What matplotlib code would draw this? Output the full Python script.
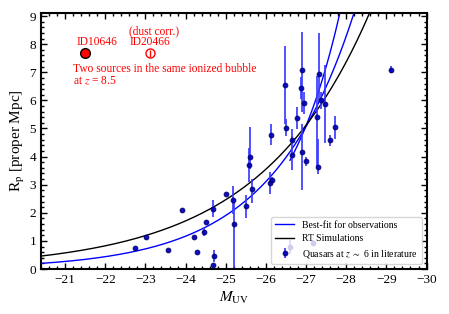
import numpy as np
import matplotlib
matplotlib.use('Agg')
import matplotlib.pyplot as plt
from matplotlib.ticker import MultipleLocator

plt.rcParams['font.family'] = ['Liberation Serif', 'DejaVu Serif']
plt.rcParams['mathtext.fontset'] = 'stix'

# quasars at z~6 (M_UV, R_p, lower err, upper err)
M_qso = [-22.74, -23.01, -23.57, -23.92, -24.20, -24.28, -24.46, -24.52, -24.69, -24.71,
         -24.69, -25.01, -25.19, -25.21, -25.50, -25.59, -25.60, -25.66, -26.10, -26.16,
         -26.13, -26.47, -26.50, -26.64, -26.66, -26.78, -26.87, -26.90, -26.95, -26.90,
         -27.01, -27.29, -27.27, -27.32, -27.37, -27.48, -27.59, -27.71, -29.11, -26.60,
         -27.17]
R_qso = [0.75, 1.14, 0.66, 2.10, 1.15, 0.62, 1.32, 1.66, 2.14, 0.46,
         0.14, 2.67, 2.44, 1.60, 2.23, 3.69, 3.97, 2.86, 3.06, 3.17,
         4.78, 6.56, 5.03, 4.60, 4.07, 5.37, 6.44, 7.09, 5.91, 4.15,
         3.83, 3.63, 5.41, 6.95, 6.00, 5.87, 4.58, 5.04, 7.09, 0.79,
         0.94]
err_lo = [0.0, 0.0, 0.0, 0.0, 0.0, 0.0, 0.15, 0.0, 0.3, 0.2,
          0.0, 0.0, 0.5, 1.55, 0.4, 0.6, 0.4, 0.5, 0.4, 0.1,
          0.38, 1.4, 0.3, 0.15, 0.55, 0.4, 0.4, 1.5, 0.38, 1.35,
          0.15, 0.25, 1.8, 1.0, 0.3, 1.4, 0.2, 0.4, 0.12, 0.25,
          0.1]
err_hi = [0.0, 0.0, 0.0, 0.0, 0.0, 0.0, 0.15, 0.0, 0.3, 0.2,
          0.0, 0.0, 0.5, 0.8, 0.4, 0.6, 1.1, 0.35, 0.4, 0.1,
          0.38, 1.36, 0.3, 0.15, 0.9, 0.4, 0.4, 1.36, 0.38, 1.0,
          0.15, 1.0, 1.45, 1.45, 0.3, 1.4, 0.2, 0.4, 0.12, 0.25,
          0.1]

# the two z=8.5 sources
M_src = [-21.5, -23.12]
R_src = [7.68, 7.68]
src_names = ['ID10646', 'ID20466']

# fit curves  R = A * exp(k * (-M - M0))
fit_obs = (0.20, 0.49, 20.4)
fit_obs2 = (5.1, 0.69, 27.0)
fit_rt = (0.46, 0.365, 20.4)

fig = plt.figure(figsize=(4.49, 3.14), dpi=100)
ax = fig.add_axes([0.0913, 0.1433, 0.8587, 0.8153])

mm = np.linspace(-20.4, -30, 400)
A, k, M0 = fit_obs
ax.plot(mm, A * np.exp(k * (-mm - M0)), color='blue', lw=1, label='Best-fit for observations', zorder=3)
A, k, M0 = fit_obs2
mm2 = np.linspace(-26.6, -28.2, 100)
ax.plot(mm2, A * np.exp(k * (-mm2 - M0)), color='blue', lw=1, zorder=3)
A, k, M0 = fit_rt
ax.plot(mm, A * np.exp(k * (-mm - M0)), color='black', lw=1, label='RT Simulations', zorder=3)

ax.errorbar(M_qso, R_qso, yerr=[err_lo, err_hi], fmt='o', ms=3.5, mfc='#0000c0', mec='#000060',
            mew=0.6, ecolor='#3a3aff', elinewidth=1.3, capsize=0, alpha=0.95, zorder=4,
            label=r'Quasars at $z\ \sim$ 6 in literature')

ax.plot(M_src[0], R_src[0], 'o', ms=7, mfc='red', mec='black', mew=1, zorder=5)
ax.errorbar(M_src[1], R_src[1], yerr=0.12, fmt='o', ms=6.5, mfc='none', mec='red', mew=1,
            ecolor='red', elinewidth=1, zorder=5)

ax.text(-21.79, 8.07, src_names[0], color='red', fontsize=8.3, ha='center', va='center')
ax.text(-23.11, 8.07, src_names[1], color='red', fontsize=8.3, ha='center', va='center')
ax.text(-23.21, 8.47, '(dust corr.)', color='red', fontsize=8.3, ha='center', va='center')
ax.text(-21.2, 7.1, 'Two sources in the same ionized bubble', color='red', fontsize=8.3,
        ha='left', va='center')
ax.text(-21.2, 6.68, r'at $z$ = 8.5', color='red', fontsize=8.3, ha='left', va='center')

ax.set_xlim(-20.4, -30)
ax.set_ylim(0, 9.11)
ax.xaxis.set_major_locator(MultipleLocator(1))
ax.xaxis.set_minor_locator(MultipleLocator(0.2))
ax.yaxis.set_major_locator(MultipleLocator(1))
ax.yaxis.set_minor_locator(MultipleLocator(0.2))
ax.tick_params(which='both', direction='in', top=True, right=True, labelsize=9.5, width=1)
ax.tick_params(which='major', length=4)
ax.tick_params(which='minor', length=2.3)
for s in ax.spines.values():
    s.set_linewidth(1.5)

ax.set_xlabel(r'$M_{\rm UV}$', fontsize=11, labelpad=3)
ax.set_ylabel(r'R$_{\rm p}$ [proper Mpc]', fontsize=11, labelpad=2)

ax.legend(loc='lower right', fontsize=7, handlelength=2.0, borderpad=0.4, labelspacing=0.5)

fig.savefig('out.png', dpi=100)
